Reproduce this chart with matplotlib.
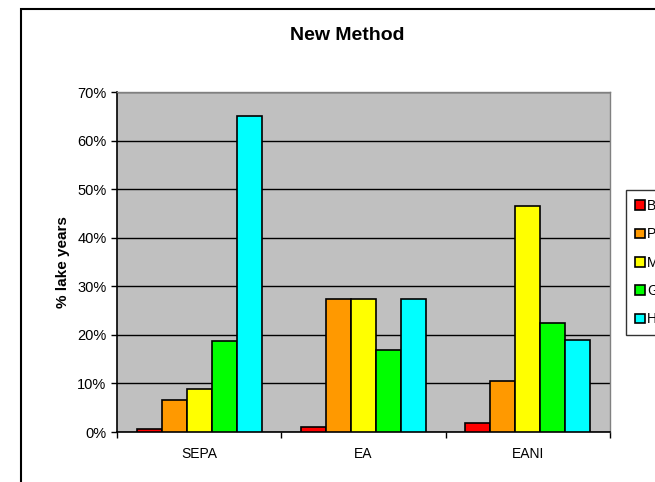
import matplotlib
matplotlib.use("Agg")
import matplotlib.pyplot as plt
import numpy as np
from matplotlib.patches import Rectangle

plt.rcParams['font.family'] = ['Liberation Sans', 'DejaVu Sans']

categories = ["SEPA", "EA", "EANI"]
series_names = ["Bad", "Poor", "Moderate", "Good", "High"]
bad = [0.7, 1.0, 1.9]
poor = [6.5, 27.3, 10.5]
moderate = [8.9, 27.3, 46.6]
good = [18.7, 16.8, 22.4]
high = [65.1, 27.3, 19.0]
colors = ["#FF0000", "#FF9900", "#FFFF00", "#00FF00", "#00FFFF"]
yticks = [0, 10, 20, 30, 40, 50, 60, 70]

W, H = 655, 482
fig = plt.figure(figsize=(W/100, H/100), dpi=100)
fig.patch.set_facecolor("white")

# outer chart frame
fig.patches.append(Rectangle((21/W, -0.1), 1.2, 1 - 9/H + 0.1, transform=fig.transFigure,
                             fill=False, edgecolor="black", linewidth=1.5, clip_on=False))

ax = fig.add_axes([117/W, (H-432)/H, (610-117)/W, (432-92)/H])
ax.set_facecolor("#C0C0C0")

x = np.arange(len(categories))
bw = 0.152
data = [bad, poor, moderate, good, high]
for i, (vals, c, name) in enumerate(zip(data, colors, series_names)):
    ax.bar(x + (i - 2) * bw, vals, width=bw, color=c, edgecolor="black",
           linewidth=1.2, label=name, zorder=3)

ax.set_xlim(-0.5, 2.5)
ax.set_ylim(0, 70)
ax.set_yticks(yticks)
ax.set_yticklabels([f"{v}%" for v in yticks], fontsize=10.5)
ax.yaxis.grid(True, color="black", linewidth=1.0, zorder=0)
ax.set_axisbelow(True)
ax.set_xticks(x)
ax.set_xticklabels(categories, fontsize=10)
ax.tick_params(axis='x', which='major', length=0, pad=11)
ax.set_xticks([-0.5, 0.5, 1.5, 2.5], minor=True)
ax.tick_params(axis='x', which='minor', length=4, width=1, direction='out')
ax.tick_params(axis='y', length=4.5, width=1, direction='out', pad=3)

for s in ["left", "bottom"]:
    ax.spines[s].set_color("black")
    ax.spines[s].set_linewidth(1.2)
for s in ["top", "right"]:
    ax.spines[s].set_color("#808080")
    ax.spines[s].set_linewidth(1.0)

ax.set_ylabel("% lake years", fontsize=11, fontweight="bold", labelpad=5)
fig.text(347/W, 1 - 35/H, "New Method", ha="center", va="center",
         fontsize=14, fontweight="bold")

leg = fig.legend(loc="upper left", bbox_to_anchor=(626/W, 1 - 190/H),
                 frameon=True, fontsize=10, handlelength=0.72, handleheight=0.7,
                 labelspacing=1.03, borderpad=0.65, handletextpad=0.15,
                 fancybox=False, borderaxespad=0)
leg.get_frame().set_edgecolor("black")
leg.get_frame().set_linewidth(1.0)

fig.savefig("out.png", dpi=100)
